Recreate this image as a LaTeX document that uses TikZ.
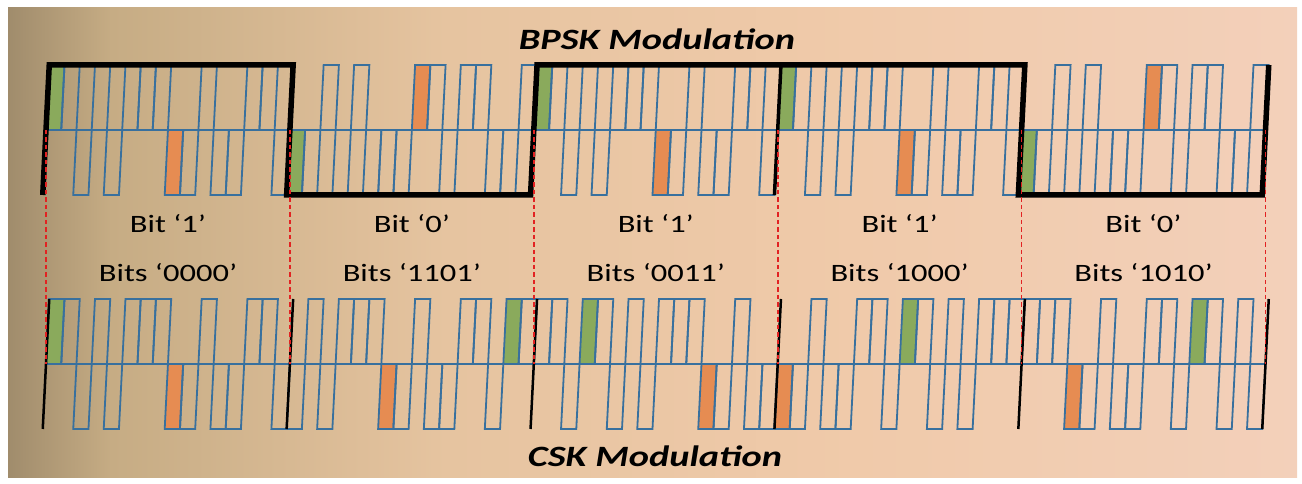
\documentclass[tikz,border=0pt]{standalone}
\usepackage{fontspec}
\setmainfont{Carlito}
\usetikzlibrary{positioning}

\definecolor{chipblue}{RGB}{56,112,158}
\definecolor{chipgreen}{RGB}{138,170,92}
\definecolor{chiporange}{RGB}{230,140,82}
\definecolor{sepred}{RGB}{226,34,34}
\definecolor{bgA}{RGB}{160,140,108}
\definecolor{bgB}{RGB}{198,172,132}
\definecolor{bgC}{RGB}{230,196,160}
\definecolor{bgD}{RGB}{240,202,170}
\definecolor{bgE}{RGB}{243,208,186}

\pgfdeclarehorizontalshading{parchment}{100bp}{color(0bp)=(bgA); color(25bp)=(bgA); color(29bp)=(bgB); color(42bp)=(bgC); color(58bp)=(bgD); color(75bp)=(bgE); color(100bp)=(bgE)}

\tikzset{
  chip/.style={draw=chipblue, line width=1.8pt},
  bpskline/.style={line width=5.5pt, line join=miter, black},
  cskline/.style={line width=2.5pt, black},
  bitsep/.style={sepred, line width=1.6pt, dash pattern=on 4.5pt off 3pt},
  title/.style={font=\fontsize{29.5}{34}\selectfont\bfseries\itshape, inner sep=0pt, anchor=base},
  bitlabel/.style={font=\fontsize{25}{30}\selectfont, inner sep=0pt, anchor=base}
}

% PN code of 16 chips
\def\pncode{{1,1,0,1,0,1,1,1,0,0,1,0,0,1,1,0}}
\def\chipw{15.244}
\def\bitw{243.9}
\def\halfh{65}

\newcommand{\wide}[1]{\scalebox{1.3}[1]{#1}}

% one row of chips, argument: shift/invert for each bit
\newcommand{\chiprow}[1]{%
  \foreach \sh/\inv [count=\bit from 0] in {#1} {
    \foreach \pos in {0,...,15} {
      \pgfmathtruncatemacro{\ci}{mod(\pos-\sh+16,16)}
      \pgfmathtruncatemacro{\cv}{abs(\pncode[\ci]-\inv)}
      \pgfmathsetmacro{\xa}{46+\bitw*\bit+\chipw*\pos}
      \pgfmathsetmacro{\ya}{(2*\cv-1)*\halfh}
      \ifnum\ci=0 \fill[chipgreen] (\xa,0) rectangle ++(\chipw,\ya); \fi
      \ifnum\ci=8 \fill[chiporange] (\xa,0) rectangle ++(\chipw,\ya); \fi
    }
  }
  \foreach \sh/\inv [count=\bit from 0] in {#1} {
    \foreach \pos in {0,...,15} {
      \pgfmathtruncatemacro{\ci}{mod(\pos-\sh+16,16)}
      \pgfmathtruncatemacro{\cv}{abs(\pncode[\ci]-\inv)}
      \pgfmathsetmacro{\xa}{46+\bitw*\bit+\chipw*\pos}
      \pgfmathsetmacro{\ya}{(2*\cv-1)*\halfh}
      \draw[chip] (\xa,0) rectangle ++(\chipw,\ya);
    }
  }
}

\begin{document}
\begin{tikzpicture}[x=1pt, y=1pt]

\useasboundingbox (0,0) rectangle (1302,484);
\fill[white] (0,0) rectangle (1302,484);
\shade[shading=parchment] (8,6) rectangle (1297,476);

% BPSK chips
\begin{scope}[shift={(0,354)}, xslant=0.05]
  \chiprow{0/0,0/1,0/0,0/0,0/1}
  \foreach \k in {0,...,5} {
    \coordinate (bt\k) at (46+\bitw*\k,\halfh);
    \coordinate (bm\k) at (46+\bitw*\k,0);
    \coordinate (bb\k) at (46+\bitw*\k,-\halfh);
  }
\end{scope}

% CSK chips
\begin{scope}[shift={(0,120)}, xslant=0.05]
  \chiprow{0/0,14/0,3/0,8/0,11/0}
  \foreach \k in {0,...,5} {
    \coordinate (ct\k) at (46+\bitw*\k,\halfh);
    \coordinate (cm\k) at (46+\bitw*\k,0);
    \coordinate (cb\k) at (46+\bitw*\k,-\halfh);
  }
\end{scope}

% data bits
\draw[bpskline] (bb0) -- (bt0) -- (bt1) -- (bb1) -- (bb2) -- (bt2) -- (bt4) -- (bb4) -- (bb5) -- (bt5);
\draw[bpskline, line width=3.5pt] (bt3) -- (bb3);
\foreach \k in {0,...,5} \draw[cskline] (ct\k) -- (cb\k);
\foreach \k in {0,...,5} \draw[bitsep] (bm\k) -- (cm\k);

\node[title] (bpsk) at (657,434) {\wide{BPSK Modulation}};
\node[title] (csk) at (655,17) {\wide{CSK Modulation}};

\node[bitlabel] (bitA) at (168,251) {\wide{Bit ‘1’}};
\node[bitlabel] (bitB) at (411.9,251) {\wide{Bit ‘0’}};
\node[bitlabel] (bitC) at (655.8,251) {\wide{Bit ‘1’}};
\node[bitlabel] (bitD) at (899.6,251) {\wide{Bit ‘1’}};
\node[bitlabel] (bitE) at (1143.5,251) {\wide{Bit ‘0’}};

\node[bitlabel] (bitsA) at (168,202) {\wide{Bits ‘0000’}};
\node[bitlabel] (bitsB) at (411.9,202) {\wide{Bits ‘1101’}};
\node[bitlabel] (bitsC) at (655.8,202) {\wide{Bits ‘0011’}};
\node[bitlabel] (bitsD) at (899.6,202) {\wide{Bits ‘1000’}};
\node[bitlabel] (bitsE) at (1143.5,202) {\wide{Bits ‘1010’}};

\end{tikzpicture}
\end{document}
